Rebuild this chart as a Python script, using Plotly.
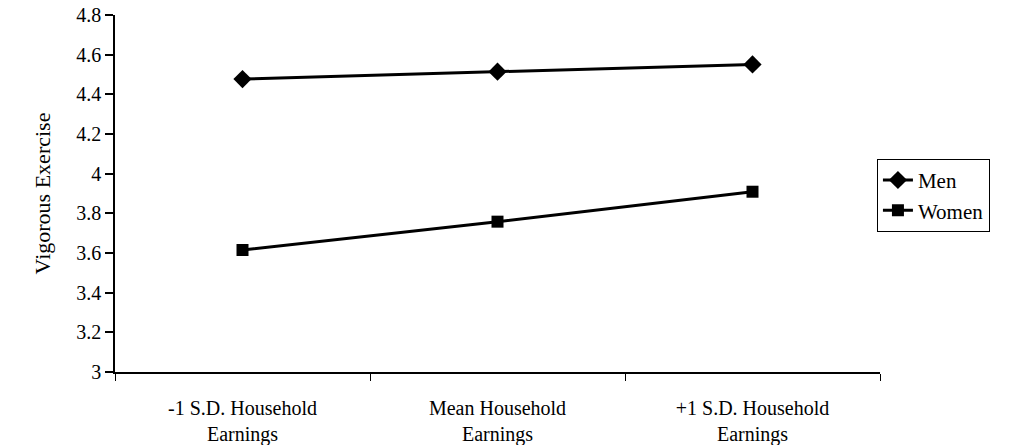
import plotly.graph_objects as go

categories = ["-1 S.D. Household<br>Earnings", "Mean Household<br>Earnings", "+1 S.D. Household<br>Earnings"]
men = [4.477, 4.514, 4.551]
women = [3.615, 3.758, 3.909]
y_ticks = [3, 3.2, 3.4, 3.6, 3.8, 4, 4.2, 4.4, 4.6, 4.8]
y_tick_text = ["3", "3.2", "3.4", "3.6", "3.8", "4", "4.2", "4.4", "4.6", "4.8"]

FONT = "Liberation Serif, Times New Roman, serif"

fig = go.Figure()
fig.add_trace(go.Scatter(
    x=categories, y=men, name="Men", mode="lines+markers",
    line=dict(color="black", width=3),
    marker=dict(symbol="diamond", size=14, color="black"),
))
fig.add_trace(go.Scatter(
    x=categories, y=women, name="Women", mode="lines+markers",
    line=dict(color="black", width=3),
    marker=dict(symbol="square", size=12, color="black"),
))

fig.update_layout(
    width=1017, height=445,
    margin=dict(l=115, r=137, t=15, b=73, autoexpand=False),
    paper_bgcolor="white", plot_bgcolor="white",
    font=dict(family=FONT, color="black", size=20),
    showlegend=True,
    legend=dict(
        x=0.996, xanchor="left", y=0.597, yanchor="top",
        bordercolor="black", borderwidth=1, bgcolor="white",
        font=dict(size=21, family=FONT),
        tracegroupgap=0, itemwidth=30,
    ),
    xaxis=dict(
        type="category", range=[-0.5, 2.5], automargin=False,
        tickson="boundaries", ticks="outside", ticklen=7, tickwidth=1, tickcolor="black",
        showline=True, linecolor="black", linewidth=1.5,
        showgrid=False, zeroline=False,
        tickfont=dict(size=20, family=FONT),
        ticklabelstandoff=17,
    ),
    yaxis=dict(
        range=[3, 4.8], tickvals=y_ticks, ticktext=y_tick_text, automargin=False,
        ticks="outside", ticklen=8, tickwidth=1.5, tickcolor="black",
        showline=True, linecolor="black", linewidth=1.5,
        showgrid=False, zeroline=False,
        tickfont=dict(size=20, family=FONT),
        title=dict(text="Vigorous Exercise", font=dict(size=22, family=FONT), standoff=20),
    ),
)

fig.write_html("out.html", config={"displayModeBar": False},
               post_script="document.body.style.margin='0';")
